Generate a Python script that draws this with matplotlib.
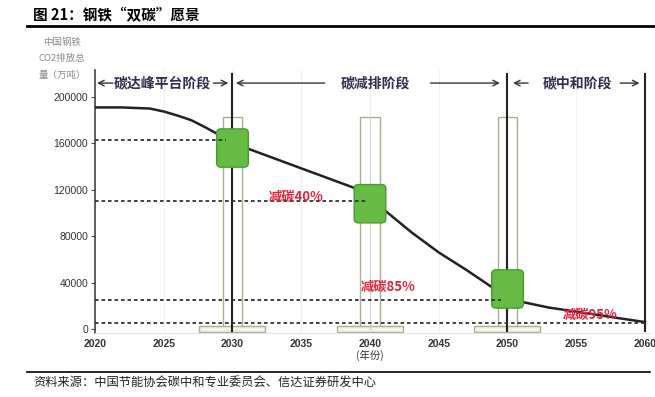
import matplotlib

matplotlib.use("Agg")
import matplotlib.pyplot as plt
from matplotlib.patches import FancyBboxPatch, Rectangle

plt.rcParams["font.family"] = ["Noto Sans CJK SC", "DejaVu Sans"]

# curve of China steel CO2 emissions (10k tonnes)
years = [2020, 2022, 2024, 2025, 2026, 2027, 2028, 2029, 2030, 2031, 2035, 2039,
         2040, 2041, 2043, 2045, 2047, 2049, 2050, 2051, 2053, 2055, 2058, 2060]
emissions = [191000, 191000, 190000, 187500, 184000, 180000, 174000, 167500, 161500,
             156000, 138500, 121000, 112000, 103000, 83500, 66000, 51000, 35000,
             28000, 23500, 18500, 15000, 9500, 6000]

milestone_years = [2030, 2040, 2050]
milestone_values = [156000, 108000, 34500]

level_values = [163000, 110000, 25000, 5000]
level_ends = [2029.5, 2039.8, 2049.5, 2060]

cut_labels = ["减碳40%", "减碳85%", "减碳95%"]
cut_pos = [(2032.6, 113500), (2039.3, 36000), (2054.0, 12500)]

phase_labels = ["碳达峰平台阶段", "碳减排阶段", "碳中和阶段"]
phase_centers = [2024.9, 2040.4, 2055.1]
boundary_years = [2030, 2050, 2060]

xticks = [2020, 2025, 2030, 2035, 2040, 2045, 2050, 2055, 2060]
yticks = [0, 40000, 80000, 120000, 160000, 200000]

W, H = 655, 397
INK = "#222222"
PHASE = "#2e2e4e"
RED = "#e0243c"
GREEN = "#66bb44"
GREEN_EDGE = "#4a9a30"
OUTLINE = "#a9b092"

fig = plt.figure(figsize=(W / 100, H / 100), dpi=100, facecolor="white")
ax = fig.add_axes([95 / W, 1 - 332.5 / H, 555.5 / W, 262.2 / H])
ax.set_xlim(2020, 2060.4)
ax.set_ylim(-3000, 223000)

for side in ("top", "right"):
    ax.spines[side].set_visible(False)
ax.spines["left"].set_color("#444444")
ax.spines["left"].set_linewidth(1.2)
ax.spines["bottom"].set_color("#e4e4e4")

ax.set_xticks(xticks)
ax.set_yticks(yticks)
ax.set_xticklabels([str(x) for x in xticks], family="Liberation Sans",
                   fontsize=7.5, color="#333333", fontweight="bold")
ax.set_yticklabels([str(y) for y in yticks], family="Liberation Sans",
                   fontsize=7.5, color="#333333")
ax.tick_params(axis="x", length=0, pad=5)
ax.tick_params(axis="y", length=3, pad=2, color="#444444")
ax.grid(axis="x", color="#f0f0f0", linewidth=0.8)
ax.set_axisbelow(True)

# tall hollow bars and bottom bases
for yr in milestone_years:
    ax.add_patch(Rectangle((yr - 0.7, 0), 1.4, 183000, fill=False,
                           edgecolor=OUTLINE, linewidth=1, zorder=2))
    ax.add_patch(Rectangle((yr - 2.4, -2600), 4.8, 5200, facecolor="#f3f3e8",
                           edgecolor=OUTLINE, linewidth=1, zorder=2))
ax.plot([2040, 2040], [0, 183000], color="#d0d0c8", linewidth=0.8, zorder=2)

for yr in boundary_years:
    ax.plot([yr, yr], [-2000, 220000], color=INK, linewidth=1.5, zorder=3)

ax.plot(years, emissions, color=INK, linewidth=1.8, zorder=4)

for yr, val in zip(milestone_years, milestone_values):
    ax.add_patch(FancyBboxPatch((yr - 1.15, val - 16500), 2.3, 33000,
                                boxstyle="round,pad=0,rounding_size=0.3",
                                mutation_aspect=11850, facecolor=GREEN,
                                edgecolor=GREEN_EDGE, linewidth=1, zorder=5))

for val, end in zip(level_values, level_ends):
    ax.plot([2020, end], [val, val], color="#333333", linewidth=1.3,
            linestyle=(0, (2, 1.6)), zorder=6)

for text, (x, y) in zip(cut_labels, cut_pos):
    ax.text(x, y, text, color=RED, fontsize=9.5, fontweight="bold",
            ha="left", va="center", zorder=7)

# phase labels with arrows
arrow_y = 212000
arrows = [(2021.3, 2020.15), (2028.6, 2029.7), (2036.7, 2030.25),
          (2044.4, 2049.45), (2051.5, 2050.4), (2058.2, 2059.6)]
for start, end in arrows:
    ax.annotate("", xy=(end, arrow_y), xytext=(start, arrow_y),
                arrowprops=dict(arrowstyle="->", color="#333333", lw=1,
                                shrinkA=0, shrinkB=0))
for text, x in zip(phase_labels, phase_centers):
    ax.text(x, arrow_y, text, color=PHASE, fontsize=10, fontweight="bold",
            ha="center", va="center")

ax.text(2040, -23000, "(年份)", color="#333333", fontsize=7.5,
        ha="center", va="center")

for line, y in zip(["中国钢铁", "CO2排放总", "量（万吨）"], [42, 58, 75]):
    fig.text(62 / W, 1 - y / H, line, color="#8a8a8a", fontsize=6.8,
             ha="center", va="center")

fig.text(33 / W, 1 - 15 / H, "图 21：钢铁“双碳”愿景", color="black",
         fontsize=10.5, fontweight="bold", ha="left", va="center")
fig.add_artist(plt.Line2D([27 / W, 1.0], [1 - 25.5 / H] * 2, color="black",
                          linewidth=2))
fig.add_artist(plt.Line2D([27 / W, 650 / W], [1 - 372 / H] * 2, color="black",
                          linewidth=1.2))
fig.text(33 / W, 1 - 383 / H, "资料来源：中国节能协会碳中和专业委员会、信达证券研发中心",
         color="#222222", fontsize=8.8, ha="left", va="center")

fig.savefig("out.png", dpi=100, facecolor="white")
